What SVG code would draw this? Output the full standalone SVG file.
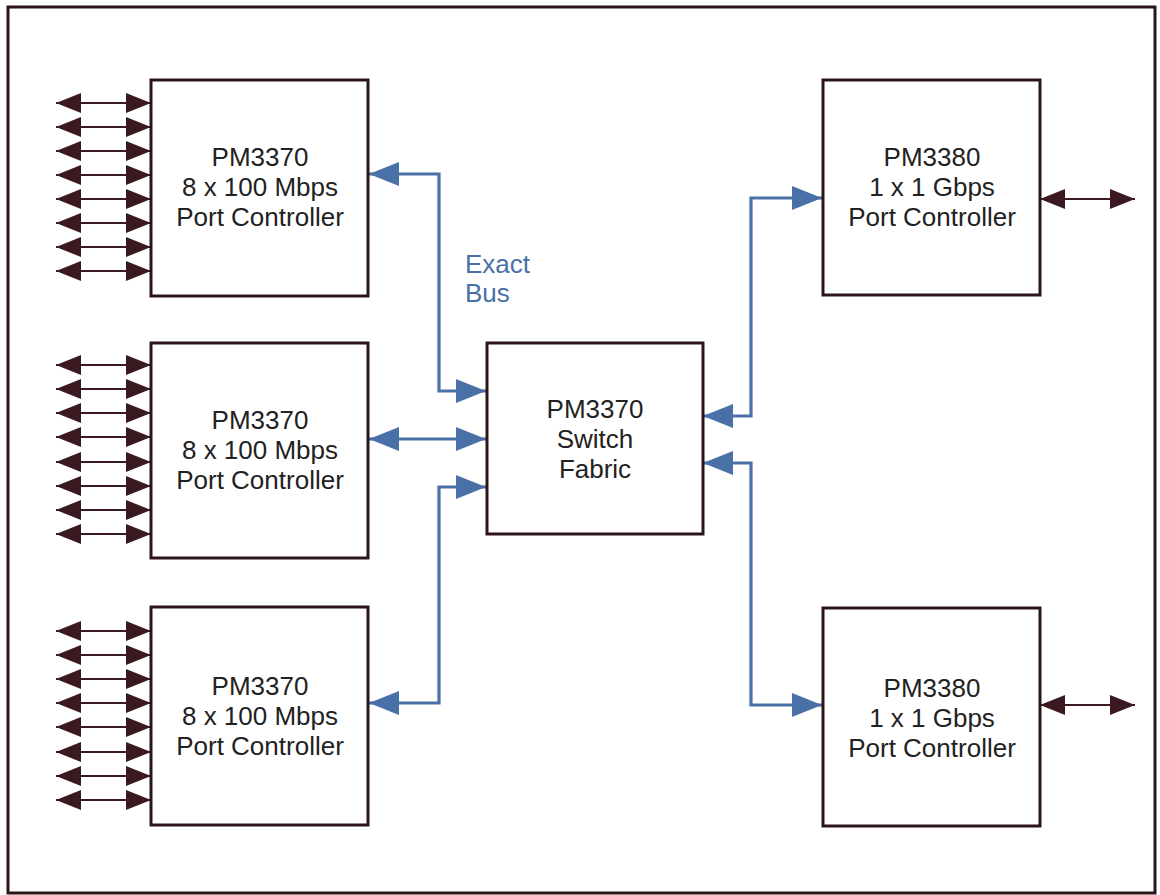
<svg xmlns="http://www.w3.org/2000/svg" width="1160" height="895" viewBox="0 0 1160 895">
<defs>
<style>
.box{fill:#fff;stroke:#2b1519;stroke-width:3}
.t{font-family:"Liberation Sans",Arial,sans-serif;font-size:26px;fill:#222;text-anchor:middle}
.lbl{font-family:"Liberation Sans",Arial,sans-serif;font-size:26px;fill:#4a70a8}
.d{stroke:#3a1a20;stroke-width:1.8;fill:none;marker-start:url(#dk);marker-end:url(#dk)}
.b{stroke:#4a70a8;stroke-width:3.2;fill:none;marker-start:url(#bl);marker-end:url(#bl)}
</style>
<marker id="dk" viewBox="0 0 25 20" refX="25" refY="10" markerWidth="25" markerHeight="20" markerUnits="userSpaceOnUse" orient="auto-start-reverse">
<path d="M0,0 L25,10 L0,20 z" fill="#3a1a20"/>
</marker>
<marker id="bl" viewBox="0 0 30 24" refX="30" refY="12" markerWidth="30" markerHeight="24" markerUnits="userSpaceOnUse" orient="auto-start-reverse">
<path d="M0,0 L30,12 L0,24 z" fill="#4a70a8"/>
</marker>
</defs>
<rect width="1160" height="895" fill="#fff"/>
<rect x="8" y="7" width="1147" height="886" fill="#fff" stroke="#2b1519" stroke-width="3"/>

<g id="connectors">
<g id="port-links-1">
<path class="d" d="M56,103 H151"/><path class="d" d="M56,127 H151"/><path class="d" d="M56,151 H151"/><path class="d" d="M56,175 H151"/>
<path class="d" d="M56,199 H151"/><path class="d" d="M56,223 H151"/><path class="d" d="M56,247 H151"/><path class="d" d="M56,271 H151"/>
</g>
<g id="port-links-2">
<path class="d" d="M56,365 H151"/><path class="d" d="M56,389 H151"/><path class="d" d="M56,413 H151"/><path class="d" d="M56,437 H151"/>
<path class="d" d="M56,462 H151"/><path class="d" d="M56,486 H151"/><path class="d" d="M56,510 H151"/><path class="d" d="M56,534 H151"/>
</g>
<g id="port-links-3">
<path class="d" d="M56,631 H151"/><path class="d" d="M56,655 H151"/><path class="d" d="M56,679 H151"/><path class="d" d="M56,703 H151"/>
<path class="d" d="M56,727 H151"/><path class="d" d="M56,752 H151"/><path class="d" d="M56,776 H151"/><path class="d" d="M56,800 H151"/>
</g>
<path class="d" d="M1040,199 H1135"/>
<path class="d" d="M1040,705 H1135"/>
<g id="exact-bus">
<path class="b" d="M369,174 H439 V391 H486"/>
<path class="b" d="M369,439 H486"/>
<path class="b" d="M486,487 H439 V703 H369"/>
<path class="b" d="M703,416 H751 V198 H822"/>
<path class="b" d="M703,463 H751 V705 H822"/>
</g>
<text class="lbl" x="465" y="273">Exact</text>
<text class="lbl" x="465" y="302">Bus</text>
</g>

<g id="pc1">
<rect class="box" x="151" y="80" width="217" height="216"/>
<text class="t" x="260" y="166">PM3370</text>
<text class="t" x="260" y="196">8 x 100 Mbps</text>
<text class="t" x="260" y="226">Port Controller</text>
</g>
<g id="pc2">
<rect class="box" x="151" y="343" width="217" height="215"/>
<text class="t" x="260" y="429">PM3370</text>
<text class="t" x="260" y="459">8 x 100 Mbps</text>
<text class="t" x="260" y="489">Port Controller</text>
</g>
<g id="pc3">
<rect class="box" x="151" y="607" width="217" height="218"/>
<text class="t" x="260" y="695">PM3370</text>
<text class="t" x="260" y="725">8 x 100 Mbps</text>
<text class="t" x="260" y="755">Port Controller</text>
</g>
<g id="switch">
<rect class="box" x="487" y="343" width="216" height="191"/>
<text class="t" x="595" y="418">PM3370</text>
<text class="t" x="595" y="448">Switch</text>
<text class="t" x="595" y="478">Fabric</text>
</g>
<g id="gpc1">
<rect class="box" x="823" y="80" width="217" height="215"/>
<text class="t" x="932" y="166">PM3380</text>
<text class="t" x="932" y="196">1 x 1 Gbps</text>
<text class="t" x="932" y="226">Port Controller</text>
</g>
<g id="gpc2">
<rect class="box" x="823" y="608" width="217" height="218"/>
<text class="t" x="932" y="697">PM3380</text>
<text class="t" x="932" y="727">1 x 1 Gbps</text>
<text class="t" x="932" y="757">Port Controller</text>
</g>
</svg>
